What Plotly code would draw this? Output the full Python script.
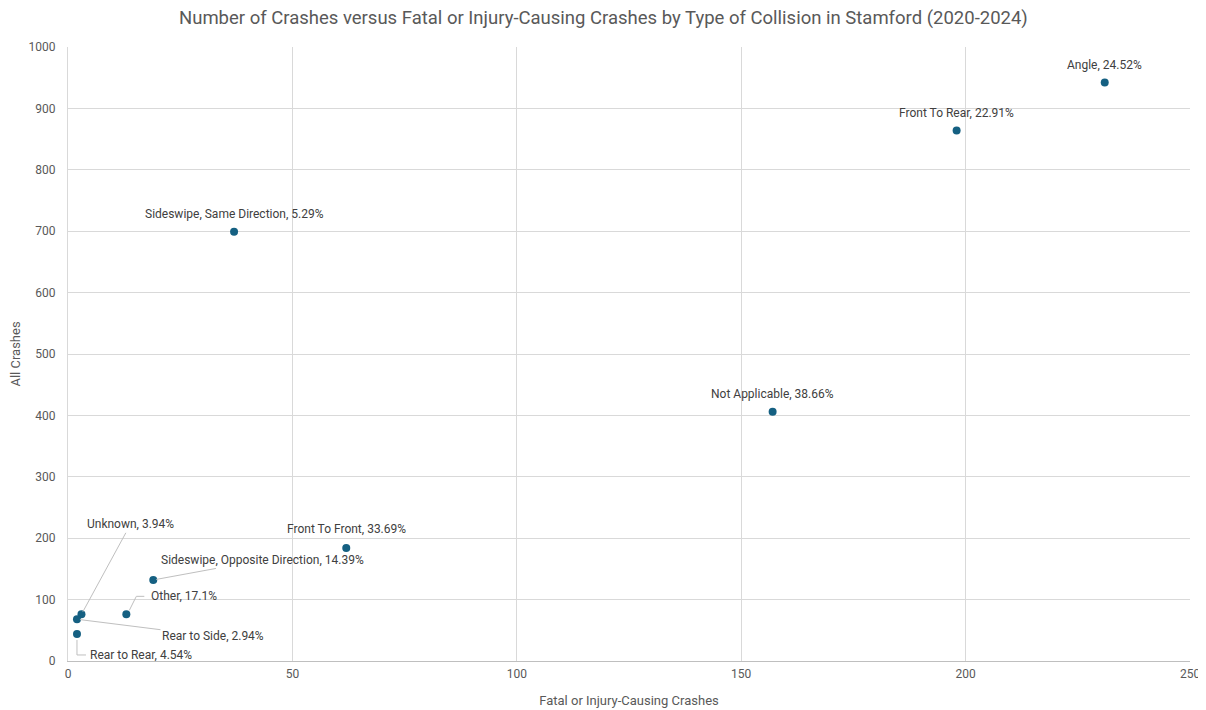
import plotly.graph_objects as go

categories = ["Angle", "Front To Rear", "Sideswipe, Same Direction", "Not Applicable",
              "Front To Front", "Sideswipe, Opposite Direction", "Other", "Unknown",
              "Rear to Side", "Rear to Rear"]
fatal_injury = [231, 198, 37, 157, 62, 19, 13, 3, 2, 2]
all_crashes = [942, 864, 699, 406, 184, 132, 76, 76, 68, 44]
pct_labels = ["24.52%", "22.91%", "5.29%", "38.66%", "33.69%", "14.39%", "17.1%", "3.94%", "2.94%", "4.54%"]

# label style: (x offset px, y offset px, leader kind)
label_offsets = {
    "Angle": (0, -18, None),
    "Front To Rear": (0, -18, None),
    "Sideswipe, Same Direction": (0, -18, None),
    "Not Applicable": (0, -18, None),
    "Front To Front": (0, -19, None),
    "Sideswipe, Opposite Direction": (109, -20, "arrow"),
    "Other": (58, -18, "M3,4 L10,18 L18,18"),
    "Unknown": (49, -90, "arrow"),
    "Rear to Side": (136, 17, "arrow"),
    "Rear to Rear": (64, 21, "M0,-6 L0,-21 L9,-21"),
}

FONT = "Roboto, Arial"
LEADER = "#bfbfbf"

fig = go.Figure()
fig.add_trace(go.Scatter(
    x=fatal_injury, y=all_crashes, mode="markers",
    marker=dict(color="#156082", size=8),
    hoverinfo="x+y",
))

for cat, xv, yv, p in zip(categories, fatal_injury, all_crashes, pct_labels):
    ax, ay, leader = label_offsets[cat]
    txt = f"{cat}, {p}"
    fnt = dict(family=FONT, size=12, color="#404040")
    if leader == "arrow":
        fig.add_annotation(x=xv, y=yv, text=txt, showarrow=True, ax=ax, ay=ay,
                           arrowhead=0, arrowwidth=1, arrowcolor=LEADER, standoff=3, font=fnt)
    else:
        fig.add_annotation(x=xv, y=yv, text=txt, showarrow=False, xshift=ax, yshift=-ay, font=fnt)
        if leader:
            fig.add_shape(type="path", xref="x", yref="y", xsizemode="pixel", ysizemode="pixel",
                          xanchor=xv, yanchor=yv, path=leader,
                          line=dict(color=LEADER, width=1), layer="above")

# page body adds an 8px offset, so the figure is sized to fill the window
fig.update_layout(
    width=1198, height=702,
    paper_bgcolor="white", plot_bgcolor="white",
    margin=dict(l=60, r=16, t=39, b=49),
    title=dict(text="Number of Crashes versus Fatal or Injury-Causing Crashes by Type of Collision in Stamford (2020-2024)",
               x=0.497, xanchor="center", y=0.987, yanchor="middle",
               font=dict(family=FONT, size=18.5, color="#595959")),
    font=dict(family=FONT, size=12, color="#595959"),
    showlegend=False,
)
fig.update_xaxes(range=[0, 250], dtick=50, showgrid=True, gridcolor="#d9d9d9", gridwidth=1,
                 zeroline=False, showline=True, linecolor="#bfbfbf", linewidth=1,
                 ticks="", tickfont=dict(size=12, color="#595959"), ticklabelstandoff=2,
                 automargin=False,
                 title=dict(text="Fatal or Injury-Causing Crashes", font=dict(size=13, color="#595959"), standoff=15))
fig.update_yaxes(range=[0, 1000], dtick=100, showgrid=True, gridcolor="#d9d9d9", gridwidth=1,
                 zeroline=False, showline=True, linecolor="#d9d9d9", linewidth=1,
                 ticks="", tickfont=dict(size=12, color="#595959"), ticklabelstandoff=9,
                 automargin=False,
                 title=dict(text="All Crashes", font=dict(size=13, color="#595959"), standoff=7))

fig.write_html("out.html")
